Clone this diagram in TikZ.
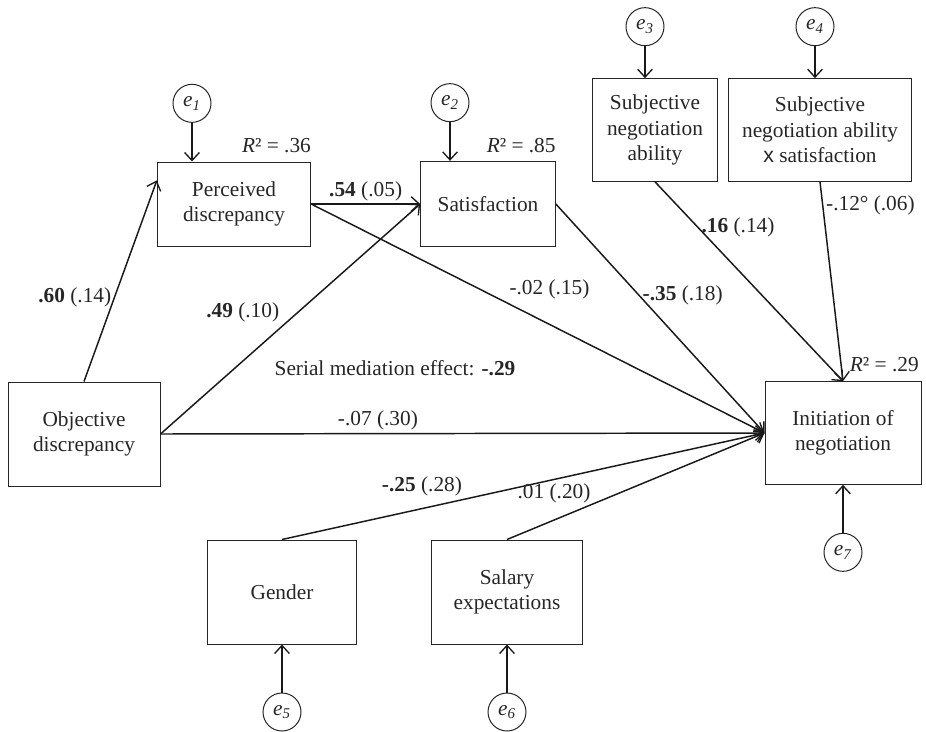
\documentclass[tikz,border=0pt]{standalone}
\usepackage{fontspec}
\setmainfont{Liberation Serif}
\newfontfamily\crossfont{Liberation Sans}
\usetikzlibrary{arrows.meta, positioning}
\tikzset{
    var/.style={rectangle, draw=black!85, line width=0.75pt, align=center, inner sep=2pt},
    err/.style={circle, draw=black!85, line width=0.75pt, minimum size=28.5pt, inner sep=0pt},
    link/.style={-{Straight Barb[length=6pt, width=11pt, line width=1pt]}, draw=black!90, line width=1.1pt},
    coef/.style={inner sep=2pt, text=black!85},
    rsq/.style={inner sep=0pt, text=black!85}
}
\newcommand{\errlab}[1]{\textit{e}\textsubscript{\textit{#1}}}
\newcommand{\rsqlab}[1]{\textit{R}² = #1}

\begin{document}
\begin{tikzpicture}[x=0.75pt, y=-0.75pt, font=\fontsize{16}{19}\selectfont, text=black!85]
    \useasboundingbox (0,0) rectangle (926,732);

    % variables
    \node[var, minimum width=114pt, minimum height=78pt] (ObjDisc) at (84,434) {Objective\\discrepancy};
    \node[var, minimum width=115pt, minimum height=63pt] (PercDisc) at (234,204) {Perceived\\discrepancy};
    \node[var, minimum width=101pt, minimum height=64pt] (Satis) at (488,204) {Satisfaction};
    \node[var, minimum width=94pt, minimum height=77pt] (SubAb) at (655,130) {Subjective\\negotiation\\ability};
    \node[var, minimum width=137pt, minimum height=77pt] (SubAbSat) at (820,130) {Subjective\\negotiation ability\\{\crossfont x} satisfaction};
    \node[var, minimum width=117pt, minimum height=77pt] (InitNeg) at (843,433) {Initiation of\\negotiation};
    \node[var, minimum width=112pt, minimum height=78pt] (Gender) at (282,592) {Gender};
    \node[var, minimum width=113pt, minimum height=78pt] (Salary) at (507,592) {Salary\\expectations};

    % error terms
    \node[err, above=29pt of PercDisc, xshift=-31.5pt] (e1) {\errlab{1}};
    \node[err, above=29pt of Satis, xshift=-28.5pt] (e2) {\errlab{2}};
    \node[err, above=24pt of SubAb, xshift=-7.5pt] (e3) {\errlab{3}};
    \node[err, above=24pt of SubAbSat, xshift=-3.75pt] (e4) {\errlab{4}};
    \node[err, below=36pt of Gender] (e5) {\errlab{5}};
    \node[err, below=36pt of Salary] (e6) {\errlab{6}};
    \node[err, below=36pt of InitNeg] (e7) {\errlab{7}};

    \draw[link] (e1) -- (e1 |- PercDisc.north);
    \draw[link] (e2) -- (e2 |- Satis.north);
    \draw[link] (e3) -- (e3 |- SubAb.north);
    \draw[link] (e4) -- (e4 |- SubAbSat.north);
    \draw[link] (e5) -- (e5 |- Gender.south);
    \draw[link] (e6) -- (e6 |- Salary.south);
    \draw[link] (e7) -- (e7 |- InitNeg.south);

    % explained variance
    \node[rsq, anchor=south east] (r36) at ([yshift=6pt]PercDisc.north east) {\rsqlab{.36}};
    \node[rsq, anchor=south east] (r85) at ([yshift=6pt]Satis.north east) {\rsqlab{.85}};
    \node[rsq, anchor=south west] (r29) at ([xshift=5pt, yshift=7pt]InitNeg.north) {\rsqlab{.29}};

    % paths
    \draw[link] (ObjDisc.north) -- (PercDisc.163) node[coef, left, pos=0.42] (b60) {\textbf{.60} (.14)};
    \draw[link] (PercDisc.east) -- (Satis.west) node[coef, above, midway] (b54) {\textbf{.54} (.05)};
    \draw[link] (ObjDisc.east) -- (Satis.west) node[coef, above left, pos=0.47] (b49) {\textbf{.49} (.10)};
    \draw[link] (PercDisc.east) -- (InitNeg.west) node[coef, above right, pos=0.43] (b02) {-.02 (.15)};
    \draw[link] (Satis.east) -- (InitNeg.west) node[coef, right, pos=0.40] (b35) {\textbf{-.35} (.18)};
    \draw[link] (SubAb.south) -- (InitNeg.north) node[coef, right, pos=0.23] (b16) {\textbf{.16} (.14)};
    \draw[link] (SubAbSat.south) -- (InitNeg.north) node[coef, right, pos=0.12] (b12) {-.12° (.06)};
    \draw[link] (ObjDisc.east) -- (InitNeg.west) node[coef, above, pos=0.36] (b07) {-.07 (.30)};
    \draw[link] (Gender.north) -- (InitNeg.west) node[coef, above left, pos=0.38] (b25) {\textbf{-.25} (.28)};
    \draw[link] (Salary.north) -- (InitNeg.west);
    \node[coef] (b01) at (554,493) {.01 (.20)};

    \node[coef] (serial) at (395,368) {Serial mediation effect: \textbf{-.29}};
\end{tikzpicture}
\end{document}
